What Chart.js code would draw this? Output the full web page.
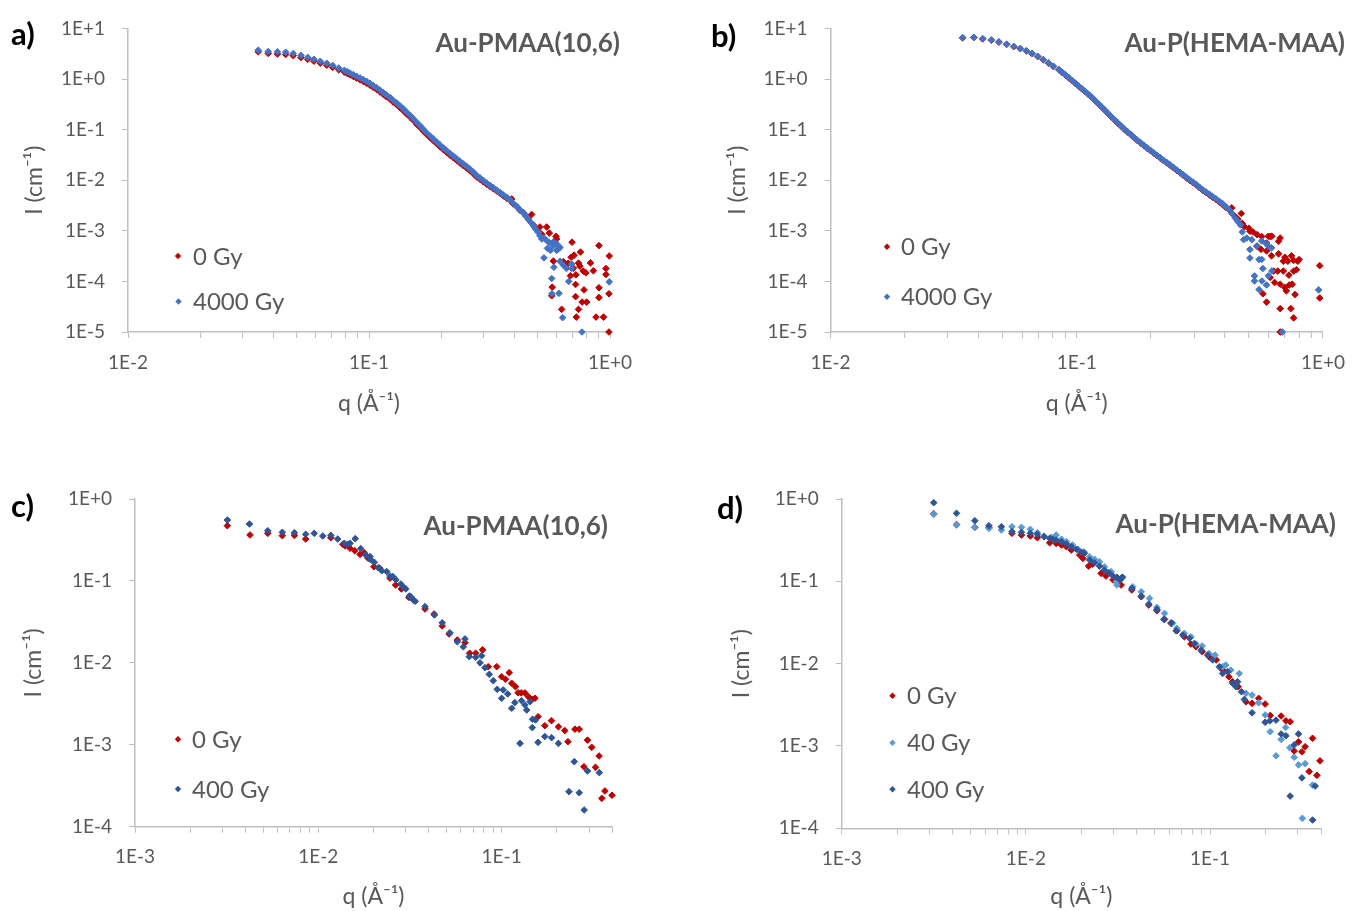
<!DOCTYPE html>
<html><head><meta charset="utf-8">
<script src="https://cdn.jsdelivr.net/npm/chart.js@4.4.1/dist/chart.umd.min.js"></script>
<style>
html,body{margin:0;padding:0;background:#fff;width:1358px;height:911px;overflow:hidden;font-family:Lato,"Open Sans",sans-serif}
.panel{position:absolute}
.lbl{position:absolute;font-weight:bold;color:#000;font-size:31px;line-height:1;transform:translateY(-50%);white-space:nowrap}
.ann{position:absolute;font-weight:bold;color:#595959;font-size:26px;line-height:1;white-space:nowrap;transform:translate(-100%,-50%)}
</style></head><body>
<div class="panel" style="left:0;top:0"><canvas id="ca" width="680" height="440"></canvas></div>
<div class="panel" style="left:680px;top:0"><canvas id="cb" width="678" height="440"></canvas></div>
<div class="panel" style="left:0;top:450px"><canvas id="cc" width="680" height="461"></canvas></div>
<div class="panel" style="left:680px;top:450px"><canvas id="cd" width="678" height="461"></canvas></div>
<div class="lbl" style="left:11px;top:33px">a)</div>
<div class="lbl" style="left:711px;top:35px">b)</div>
<div class="lbl" style="left:11px;top:505px">c)</div>
<div class="lbl" style="left:717px;top:507px">d)</div>
<div class="ann" style="left:620px;top:42px">Au-PMAA(10,6)</div>
<div class="ann" style="left:1345px;top:42px">Au-P(HEMA-MAA)</div>
<div class="ann" style="left:608px;top:525px">Au-PMAA(10,6)</div>
<div class="ann" style="left:1336px;top:523px">Au-P(HEMA-MAA)</div>
<script>
// ---------- tick labels ----------
const decadeValuesAB = [1e-5, 1e-4, 1e-3, 1e-2, 1e-1, 1, 10];
const decadeLabelsAB = ['1E-5', '1E-4', '1E-3', '1E-2', '1E-1', '1E+0', '1E+1'];
const decadeValuesCD = [1e-4, 1e-3, 1e-2, 1e-1, 1];
const decadeLabelsCD = ['1E-4', '1E-3', '1E-2', '1E-1', '1E+0'];
const qDecadesAB = [0.01, 0.1, 1];
const qLabelsAB = ['1E-2', '1E-1', '1E+0'];
const qDecadesCD = [0.001, 0.01, 0.1];
const qLabelsCD = ['1E-3', '1E-2', '1E-1'];

// ---------- series [q, I] ----------
const a_0Gy = [[0.0347,3.45],[0.0382,3.20],[0.0417,3.12],[0.0451,3.05],[0.0485,2.90],[0.0522,2.66],[0.0557,2.45],[0.0591,2.25],[0.0628,2.06],[0.0668,1.87],[0.0707,1.70],[0.0749,1.52],[0.079,1.37],
[0.0812,1.29],[0.0834,1.21],[0.0861,1.12],[0.0889,1.04],[0.0918,0.965],[0.0947,0.895],[0.0978,0.825],[0.101,0.755],[0.104,0.685],[0.1076,0.62],[0.111,0.556],[0.1146,0.497],[0.118,0.446],[0.1223,0.397],[0.126,0.35],[0.1303,0.31],[0.1345,0.271],[0.1388,0.237],[0.143,0.205],[0.148,0.177],[0.153,0.151],[0.1577,0.128],[0.163,0.11],[0.168,0.094],[0.173,0.081],[0.179,0.0695],[0.185,0.0605],[0.191,0.0527],[0.197,0.046],[0.2034,0.0403],[0.21,0.0355],[0.2168,0.0313],[0.224,0.0278],[0.231,0.0248],[0.238,0.022],[0.246,0.0195],[0.254,0.0174],[0.262,0.0155],[0.271,0.0135],[0.28,0.0116],[0.289,0.0104],[0.298,0.0093],[0.308,0.0083],[0.318,0.0075],[0.328,0.0068],[0.339,0.0061],[0.35,0.0055],[0.361,0.0049],[0.373,0.0044],[0.385,0.0040],[0.391,0.00426],[0.397,0.0034],[0.41,0.0030],[0.423,0.00255],[0.437,0.0023],[0.447,0.002],[0.458,0.00172],[0.473,0.0021],[0.481,0.0013],[0.492,0.00112],[0.504,0.00098],[0.512,0.00119],[0.521,0.00085],[0.546,0.00119],[0.56,0.0009],[0.597,0.000776],[0.61,0.00044],
[0.696,0.000596],[0.754,0.00038],[0.9,0.00051],[0.993,0.000318],[0.83,0.000232],[0.853,0.000162],[0.962,0.00018],[0.962,0.000137],[0.794,0.000148],[0.78,0.000068],[0.9,0.000075],[0.9,0.000048],[0.99,0.000057],[0.72,0.000087],[0.72,0.00005],[0.766,0.000039],[0.8,0.000039],[0.74,0.000028],[0.63,0.000028],[0.725,0.0000197],[0.875,0.0000197],[0.94,0.0000197],[0.99,0.00001],[0.576,0.000077],[0.573,0.000052],[0.685,0.000129],[0.67,0.000227],[0.6,0.00069],[0.69,0.0003],[0.74,0.00023],[0.75,0.0002],[0.71,0.00033],[0.64,0.000245],[0.582,0.000252],[0.65,0.000227],[0.705,0.000182],[0.722,0.000135],[0.774,0.00016]];

const a_4000Gy = [[0.0347,3.71],[0.0382,3.49],[0.0417,3.45],[0.0451,3.38],[0.0485,3.19],[0.0522,2.93],[0.0557,2.67],[0.0591,2.45],[0.0628,2.24],[0.0668,2.05],[0.0707,1.85],[0.0749,1.64],[0.079,1.48],
[0.0812,1.40],[0.0834,1.31],[0.0861,1.22],[0.0889,1.13],[0.0918,1.05],[0.0947,0.98],[0.0978,0.90],[0.101,0.82],[0.104,0.745],[0.1076,0.674],[0.111,0.605],[0.1146,0.54],[0.118,0.485],[0.1223,0.432],[0.126,0.381],[0.1303,0.337],[0.1345,0.295],[0.1388,0.258],[0.143,0.223],[0.148,0.192],[0.153,0.164],[0.1577,0.139],[0.163,0.119],[0.168,0.102],[0.173,0.0875],[0.179,0.0755],[0.185,0.0655],[0.191,0.057],[0.197,0.0498],[0.2034,0.0436],[0.21,0.0384],[0.2168,0.0339],[0.224,0.030],[0.231,0.0268],[0.238,0.0238],[0.246,0.0211],[0.254,0.0188],[0.262,0.0167],[0.271,0.0145],[0.28,0.0124],[0.289,0.0111],[0.298,0.0099],[0.308,0.0088],[0.318,0.0079],[0.328,0.0071],[0.339,0.00636],[0.35,0.0057],[0.361,0.0051],[0.373,0.0046],[0.385,0.0041],[0.397,0.0035],[0.41,0.00304],[0.423,0.0026],[0.437,0.00226],[0.447,0.00195],[0.458,0.00168],[0.47,0.00145],[0.481,0.00125],[0.492,0.00108],[0.504,0.00093],[0.512,0.0008],[0.521,0.00069],[0.533,0.00072],[0.546,0.00064],[0.56,0.00058],[0.582,0.0006],[0.6,0.00056],[0.62,0.00047],
[0.532,0.000292],[0.55,0.00045],[0.566,0.00041],[0.6,0.00041],[0.58,0.0005],[0.573,0.000114],[0.574,0.000057],[0.614,0.000058],[0.636,0.0000192],[0.674,0.0001],[0.693,0.00022],[0.693,0.00018],[0.62,0.00025],[0.64,0.00021],[0.66,0.00018],[0.585,0.00019],[0.765,0.00001],[0.993,0.000098]];

const b_0Gy = [[0.0344,6.5],[0.0382,6.6],[0.0415,6.2],[0.045,5.85],[0.0483,5.35],[0.0519,4.82],[0.0555,4.35],[0.059,3.97],[0.0624,3.57],[0.0659,3.17],[0.0694,2.77],[0.0731,2.39],[0.0768,2.05],[0.0804,1.76],[0.0846,1.52],
[0.0872,1.35],[0.09,1.19],[0.0928,1.05],[0.0957,0.925],[0.0987,0.815],[0.1017,0.72],[0.1048,0.638],[0.108,0.565],[0.1115,0.494],[0.115,0.432],[0.1185,0.375],[0.1222,0.325],[0.126,0.281],[0.13,0.241],[0.134,0.208],[0.138,0.179],[0.1425,0.154],[0.147,0.133],[0.1515,0.116],[0.156,0.101],[0.161,0.089],[0.166,0.0785],[0.171,0.0692],[0.176,0.0611],[0.182,0.0541],[0.1875,0.048],[0.193,0.0429],[0.1993,0.0383],[0.2055,0.0342],[0.212,0.0306],[0.2185,0.0273],[0.225,0.0244],[0.232,0.022],[0.239,0.0198],[0.247,0.0176],[0.255,0.0156],[0.263,0.0139],[0.271,0.0124],[0.279,0.0111],[0.288,0.0099],[0.297,0.0089],[0.306,0.008],[0.315,0.0071],[0.325,0.0063],[0.335,0.0057],[0.346,0.0051],[0.356,0.0046],[0.367,0.0042],[0.379,0.0037],[0.391,0.0033],[0.403,0.0029],[0.415,0.0026],[0.426,0.00284],[0.428,0.0022],[0.441,0.0019],[0.451,0.0017],[0.466,0.0022],[0.47,0.0014],[0.48,0.0012],[0.5,0.00112],[0.505,0.00098],[0.52,0.00095],[0.54,0.00084],[0.564,0.00077],[0.6,0.00078],[0.61,0.00077],[0.62,0.00078],[0.66,0.00062],[0.59,0.000574],[0.67,0.00072],
[0.54,0.0005],[0.56,0.00043],[0.59,0.0004],[0.618,0.00032],[0.66,0.00035],[0.69,0.00025],[0.70,0.0003],[0.72,0.00025],[0.745,0.00032],[0.76,0.00026],[0.79,0.00025],[0.8,0.00027],[0.63,0.00016],[0.655,0.00016],[0.69,0.00016],[0.727,0.000133],[0.76,0.00016],[0.78,0.00017],[0.61,0.00012],[0.636,0.000095],[0.67,0.000088],[0.7,0.000076],[0.73,0.000085],[0.75,0.000088],[0.77,0.000055],[0.71,0.000065],[0.57,0.000057],[0.59,0.000039],[0.67,0.000029],[0.74,0.000029],[0.76,0.000019],[0.67,0.00001],[0.97,0.000205],[0.97,0.000047]];

const b_4000Gy = [[0.0344,6.59],[0.0382,6.68],[0.0415,6.30],[0.045,5.92],[0.0483,5.41],[0.0519,4.88],[0.0555,4.40],[0.059,4.02],[0.0624,3.62],[0.0659,3.21],[0.0694,2.81],[0.0731,2.42],[0.0768,2.08],[0.0804,1.79],[0.0846,1.54],
[0.0872,1.37],[0.09,1.21],[0.0928,1.07],[0.0957,0.94],[0.0987,0.83],[0.1017,0.731],[0.1048,0.648],[0.108,0.574],[0.1115,0.502],[0.115,0.439],[0.1185,0.381],[0.1222,0.330],[0.126,0.285],[0.13,0.245],[0.134,0.211],[0.138,0.182],[0.1425,0.157],[0.147,0.135],[0.1515,0.118],[0.156,0.103],[0.161,0.0905],[0.166,0.0798],[0.171,0.0703],[0.176,0.0621],[0.182,0.055],[0.1875,0.0488],[0.193,0.0436],[0.1993,0.0389],[0.2055,0.0348],[0.212,0.0311],[0.2185,0.0278],[0.225,0.0248],[0.232,0.0224],[0.239,0.0202],[0.247,0.0179],[0.255,0.0159],[0.263,0.0142],[0.271,0.0127],[0.279,0.0114],[0.288,0.01014],[0.297,0.00915],[0.306,0.00824],[0.315,0.0073],[0.325,0.00648],[0.335,0.00585],[0.346,0.00526],[0.356,0.00478],[0.367,0.00432],[0.379,0.00385],[0.391,0.00345],[0.403,0.00302],[0.415,0.00264],[0.428,0.00216],[0.441,0.00176],[0.451,0.00152],[0.462,0.00131],[0.47,0.00095],[0.476,0.000668],
[0.49,0.00072],[0.514,0.000668],[0.538,0.000496],[0.505,0.000427],[0.6,0.000496],[0.564,0.00063],[0.59,0.00055],[0.618,0.00046],[0.505,0.00029],[0.55,0.00027],[0.57,0.00018],[0.564,0.000272],[0.6,0.000129],[0.62,0.000161],[0.527,0.000128],[0.527,0.000102],[0.565,0.000102],[0.59,0.000085],[0.55,0.000069],[0.684,0.00001],[0.96,0.000068]];

const c_0Gy = [[0.00319,0.472],[0.00424,0.364],[0.0053,0.381],[0.00636,0.357],[0.0074,0.36],[0.00853,0.325],[0.0117,0.337],[0.0136,0.28],[0.014,0.267],[0.0149,0.25],[0.0158,0.234],[0.0169,0.211],[0.0178,0.221],[0.0187,0.189],[0.0201,0.149],[0.0216,0.143],[0.0246,0.108],[0.0264,0.089],[0.0284,0.0797],[0.0312,0.063],[0.033,0.0585],[0.0382,0.0454],[0.0428,0.0395],[0.0474,0.0282],[0.0517,0.0225],[0.0573,0.019],[0.0631,0.0176],[0.0669,0.0131],[0.0722,0.0131],[0.0787,0.0144],[0.0845,0.00898],[0.094,0.00898],[0.1,0.00678],[0.105,0.0063],[0.11,0.00759],[0.1135,0.00563],[0.119,0.00512],[0.123,0.00432],[0.128,0.0043],[0.134,0.0043],[0.14,0.00386],[0.146,0.00359],[0.152,0.0037],[0.158,0.0022],[0.172,0.00171],[0.187,0.00197],[0.204,0.00166],[0.221,0.00149],[0.23,0.00109],[0.251,0.00155],[0.265,0.00155],[0.281,0.00054],[0.294,0.00114],[0.31,0.00093],[0.325,0.00053],[0.34,0.00073],[0.352,0.000222],[0.366,0.000273],[0.4,0.000242]];

const c_400Gy = [[0.00319,0.554],[0.00421,0.495],[0.0053,0.41],[0.00636,0.392],[0.0074,0.388],[0.00853,0.371],[0.0095,0.381],[0.01057,0.353],[0.0117,0.36],[0.01276,0.325],[0.01386,0.288],[0.01446,0.28],[0.0149,0.288],[0.0159,0.328],[0.01703,0.248],[0.01812,0.207],[0.01914,0.198],[0.0194,0.18],[0.0202,0.169],[0.02124,0.145],[0.0222,0.133],[0.0236,0.13],[0.0246,0.115],[0.0255,0.113],[0.0265,0.103],[0.0282,0.0918],[0.029,0.085],[0.03,0.08],[0.0314,0.0655],[0.032,0.064],[0.033,0.0585],[0.0338,0.0564],[0.0382,0.0485],[0.043,0.0384],[0.0474,0.0309],[0.0522,0.0233],[0.0573,0.0181],[0.0631,0.0196],[0.0618,0.0157],[0.0666,0.0119],[0.0722,0.0117],[0.0778,0.0122],[0.0762,0.01],[0.0811,0.00873],[0.0856,0.00724],[0.09,0.00606],[0.0946,0.00475],[0.1,0.00369],[0.102,0.00467],[0.108,0.00417],[0.1135,0.00279],[0.118,0.00327],[0.126,0.00104],[0.1285,0.00345],[0.134,0.00306],[0.137,0.00266],[0.143,0.00336],[0.1475,0.00205],[0.153,0.00201],[0.147,0.00162],[0.158,0.00107],[0.172,0.00126],[0.1874,0.00122],[0.204,0.00104],[0.233,0.000268],[0.249,0.000622],[0.265,0.00026],[0.282,0.00016],[0.294,0.000479],[0.341,0.000457]];

const d_0Gy = [[0.00316,0.66],[0.0042,0.49],[0.00528,0.453],[0.0063,0.453],[0.0084,0.383],[0.00946,0.365],[0.01057,0.355],[0.01154,0.339],[0.01346,0.294],[0.0146,0.289],[0.0156,0.276],[0.0166,0.263],[0.01765,0.24],[0.0196,0.209],[0.0204,0.19],[0.0219,0.153],[0.023,0.162],[0.0256,0.125],[0.0272,0.116],[0.0297,0.104],[0.0329,0.0902],[0.0376,0.0784],[0.0423,0.065],[0.0465,0.0515],[0.0514,0.044],[0.0566,0.0345],[0.0615,0.0308],[0.066,0.0251],[0.0725,0.0212],[0.0787,0.0173],[0.0837,0.0161],[0.0905,0.014],[0.0987,0.0121],[0.108,0.0111],[0.117,0.00836],[0.1265,0.00693],[0.1325,0.00603],[0.142,0.00524],[0.1565,0.00344],[0.169,0.00329],[0.1835,0.00379],[0.199,0.00323],[0.212,0.00235],[0.243,0.00231],[0.258,0.00202],[0.272,0.00197],[0.286,0.00087],[0.302,0.00112],[0.315,0.00085],[0.328,0.00098],[0.345,0.00049],[0.36,0.00124],[0.38,0.00044],[0.395,0.00066]];

const d_40Gy = [[0.00316,0.652],[0.0042,0.483],[0.00528,0.453],[0.0063,0.44],[0.00736,0.42],[0.0084,0.461],[0.00946,0.453],[0.01057,0.428],[0.01154,0.39],[0.01254,0.355],[0.01374,0.343],[0.0146,0.365],[0.0156,0.324],[0.0166,0.303],[0.0179,0.276],[0.0192,0.245],[0.0206,0.229],[0.0222,0.199],[0.0236,0.185],[0.0251,0.173],[0.0267,0.15],[0.029,0.131],[0.0312,0.0902],[0.031,0.0989],[0.0336,0.112],[0.038,0.0859],[0.0423,0.0748],[0.0469,0.0621],[0.0514,0.0483],[0.0566,0.0408],[0.0626,0.0309],[0.066,0.0268],[0.0725,0.0233],[0.0787,0.0212],[0.0837,0.0173],[0.0905,0.0164],[0.0987,0.0133],[0.1065,0.0127],[0.117,0.00917],[0.1215,0.00961],[0.1295,0.00836],[0.138,0.00577],[0.144,0.0076],[0.1565,0.00436],[0.169,0.00415],[0.1835,0.00335],[0.199,0.00238],[0.212,0.00149],[0.228,0.00076],[0.243,0.0012],[0.257,0.00168],[0.271,0.00095],[0.286,0.00073],[0.302,0.00059],[0.328,0.00061],[0.317,0.000132],[0.36,0.000335]];

const d_400Gy = [[0.00316,0.902],[0.0042,0.67],[0.00528,0.545],[0.0063,0.474],[0.00736,0.461],[0.0084,0.401],[0.00946,0.394],[0.01057,0.383],[0.01154,0.372],[0.01254,0.348],[0.01346,0.333],[0.014,0.324],[0.0146,0.318],[0.0156,0.303],[0.0166,0.284],[0.01765,0.263],[0.0188,0.245],[0.02,0.225],[0.0208,0.219],[0.0222,0.182],[0.0236,0.168],[0.0251,0.153],[0.0267,0.137],[0.0282,0.127],[0.0297,0.116],[0.0312,0.112],[0.0325,0.104],[0.0333,0.112],[0.0376,0.0822],[0.0423,0.0663],[0.0465,0.053],[0.0514,0.0456],[0.0561,0.0345],[0.0615,0.0314],[0.0654,0.0251],[0.0711,0.0223],[0.0773,0.0203],[0.0822,0.0176],[0.0894,0.0146],[0.097,0.0127],[0.1033,0.0111],[0.1122,0.00917],[0.117,0.0076],[0.1245,0.00798],[0.1325,0.00577],[0.138,0.00525],[0.141,0.00603],[0.148,0.00456],[0.1535,0.00368],[0.169,0.00253],[0.199,0.00194],[0.211,0.00202],[0.228,0.00206],[0.243,0.0014],[0.258,0.00133],[0.272,0.000246],[0.302,0.0014],[0.286,0.00103],[0.315,0.00041],[0.36,0.000126],[0.372,0.000326]];

// ---------- colours ----------
const RED = '#C00000', BLUE = '#4472C4', NAVY = '#2F5597', LIGHT = '#5B9BD5';
const GRAY_AXIS = '#BFBFBF', GRAY_TEXT = '#595959';

Chart.defaults.font.family = 'Lato';

function minorTicks(min, max) {
  const out = [];
  for (let e = Math.floor(Math.log10(min)); e <= Math.ceil(Math.log10(max)); e++) {
    for (let m = 1; m <= 9; m++) {
      const v = m * Math.pow(10, e);
      if (v >= min * 0.999 && v <= max * 1.001) out.push(v);
    }
  }
  return out;
}
function labeler(values, labels) {
  return function (v) {
    for (let i = 0; i < values.length; i++) {
      if (Math.abs(Math.log10(v) - Math.log10(values[i])) < 1e-6) return labels[i];
    }
    return '';
  };
}

const inlineLegend = {
  id: 'inlineLegend',
  afterDraw(chart, args, opts) {
    const ctx = chart.ctx;
    ctx.save();
    chart.data.datasets.forEach((ds, k) => {
      const pos = opts.items[k];
      const r = 3.2;
      ctx.fillStyle = ds.backgroundColor;
      ctx.beginPath();
      ctx.moveTo(pos.x - r, pos.y); ctx.lineTo(pos.x, pos.y - r);
      ctx.lineTo(pos.x + r, pos.y); ctx.lineTo(pos.x, pos.y + r);
      ctx.closePath(); ctx.fill();
      ctx.font = '24px Lato';
      ctx.fillStyle = GRAY_TEXT;
      ctx.textAlign = 'left';
      ctx.textBaseline = 'middle';
      ctx.fillText(ds.label, opts.textX, pos.y + 1);
    });
    ctx.restore();
  }
};

function makeChart(id, p) {
  const datasets = p.series.map((s, i) => ({
    label: s.label,
    data: s.data.map(([x, y]) => ({ x, y })),
    backgroundColor: s.color,
    borderColor: s.color,
    borderWidth: 1,
    pointStyle: 'rectRot',
    pointRadius: 3.3,
    showLine: false,
    clip: false,
    order: p.series.length - i
  }));
  return new Chart(document.getElementById(id), {
    type: 'scatter',
    data: { datasets },
    plugins: [inlineLegend],
    options: {
      responsive: false, animation: false, events: [],
      layout: { padding: p.pad },
      plugins: {
        legend: { display: false }, tooltip: { enabled: false },
        inlineLegend: { items: p.legendPos, textX: p.legendTextX }
      },
      scales: {
        x: {
          type: 'logarithmic', position: 'bottom', min: p.xmin, max: p.xmax,
          afterBuildTicks: s => { s.ticks = minorTicks(p.xmin, p.xmax).map(v => ({ value: v })); },
          afterFit: s => { s.height = p.xAxisH; },
          ticks: { autoSkip: false, maxRotation: 0, minRotation: 0, padding: 13, color: GRAY_TEXT,
                   font: { size: 19 }, callback: labeler(p.xTickValues, p.xTickLabels) },
          grid: { display: true, drawOnChartArea: false, drawTicks: true, tickLength: 6, color: GRAY_AXIS, lineWidth: 1 },
          border: { display: true, color: GRAY_AXIS, width: 1.5 },
          title: { display: true, text: 'q (Å⁻¹)', color: GRAY_TEXT, font: { size: 23 }, padding: { top: 0, bottom: p.xTitlePad } }
        },
        y: {
          type: 'logarithmic', position: 'left', min: p.ymin, max: p.ymax,
          afterBuildTicks: s => { s.ticks = p.yTickValues.map(v => ({ value: v })); },
          afterFit: s => { s.width = p.yAxisW; },
          ticks: { autoSkip: false, padding: 17, color: GRAY_TEXT, font: { size: 19 },
                   callback: labeler(p.yTickValues, p.yTickLabels) },
          grid: { display: true, drawOnChartArea: false, drawTicks: true, tickLength: 6, color: GRAY_AXIS, lineWidth: 1 },
          border: { display: true, color: GRAY_AXIS, width: 1.5 },
          title: { display: true, text: 'I (cm⁻¹)', color: GRAY_TEXT, font: { size: 23 }, padding: { top: p.yTitlePad, bottom: 0 } }
        }
      }
    }
  });
}

makeChart('ca', {
  series: [{ label: '0 Gy', data: a_0Gy, color: RED }, { label: '4000 Gy', data: a_4000Gy, color: BLUE }],
  xmin: 0.01, xmax: 1, ymin: 1e-5, ymax: 10,
  xTickValues: qDecadesAB, xTickLabels: qLabelsAB, yTickValues: decadeValuesAB, yTickLabels: decadeLabelsAB,
  pad: { top: 21, right: 70, bottom: 20, left: 0 }, yAxisW: 128, xAxisH: 88, yTitlePad: 21, xTitlePad: 3,
  legendPos: [{ x: 178, y: 256 }, { x: 178.5, y: 301.5 }], legendTextX: 193
});
makeChart('cb', {
  series: [{ label: '0 Gy', data: b_0Gy, color: RED }, { label: '4000 Gy', data: b_4000Gy, color: BLUE }],
  xmin: 0.01, xmax: 1, ymin: 1e-5, ymax: 10,
  xTickValues: qDecadesAB, xTickLabels: qLabelsAB, yTickValues: decadeValuesAB, yTickLabels: decadeLabelsAB,
  pad: { top: 24, right: 25, bottom: 20, left: 0 }, yAxisW: 150.5, xAxisH: 88, yTitlePad: 44, xTitlePad: 3,
  legendPos: [{ x: 207, y: 246.7 }, { x: 207, y: 296.7 }], legendTextX: 221
});
makeChart('cc', {
  series: [{ label: '0 Gy', data: c_0Gy, color: RED }, { label: '400 Gy', data: c_400Gy, color: NAVY }],
  xmin: 0.001, xmax: 0.4, ymin: 1e-4, ymax: 1,
  xTickValues: qDecadesCD, xTickLabels: qLabelsCD, yTickValues: decadeValuesCD, yTickLabels: decadeLabelsCD,
  pad: { top: 49, right: 68, bottom: 0, left: 0 }, yAxisW: 135, xAxisH: 84.3, yTitlePad: 20, xTitlePad: 1,
  legendPos: [{ x: 178, y: 289.3 }, { x: 178, y: 339 }], legendTextX: 192
});
makeChart('cd', {
  series: [{ label: '0 Gy', data: d_0Gy, color: RED }, { label: '40 Gy', data: d_40Gy, color: LIGHT }, { label: '400 Gy', data: d_400Gy, color: NAVY }],
  xmin: 0.001, xmax: 0.4, ymin: 1e-4, ymax: 1,
  xTickValues: qDecadesCD, xTickLabels: qLabelsCD, yTickValues: decadeValuesCD, yTickLabels: decadeLabelsCD,
  pad: { top: 49, right: 37, bottom: 0, left: 0 }, yAxisW: 161.7, xAxisH: 82.7, yTitlePad: 48, xTitlePad: 1,
  legendPos: [{ x: 212.5, y: 245.7 }, { x: 212.5, y: 292.7 }, { x: 212.5, y: 339.3 }], legendTextX: 227
});
</script>
</body></html>
